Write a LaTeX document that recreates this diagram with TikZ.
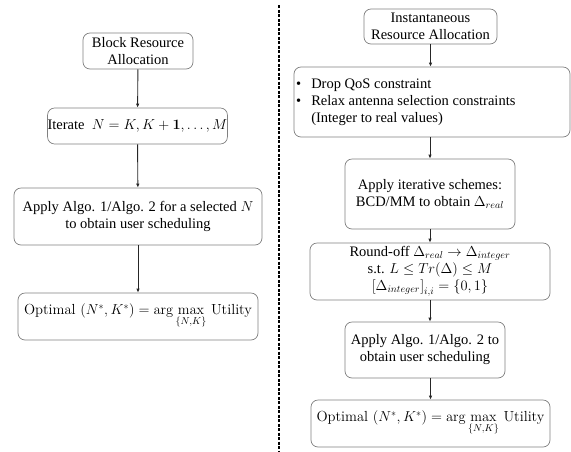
\documentclass[tikz,border=0pt]{standalone}
\usepackage{amsmath}
\usepackage[no-math]{fontspec}
\setmainfont{Liberation Serif}
\usetikzlibrary{arrows.meta}
\newcommand{\lmfont}{\usefont{TU}{lmr}{m}{n}}
\begin{document}
\begin{tikzpicture}[x=1pt,y=-1pt,
  box/.style={draw=black!50,line width=0.7pt,rounded corners=7pt,align=center,inner sep=0pt,
    font=\fontsize{14.5}{17}\selectfont},
  optbox/.style={box,font=\fontsize{14.6}{17}\selectfont\lmfont},
  conn/.style={draw=black!85,line width=0.9pt,-{Latex[length=4pt,width=3.5pt]}}]
\useasboundingbox (0,0) rectangle (571,451);
% left column
\node[box,minimum width=110pt,minimum height=36pt] (b1) at (138,51) {Block Resource\\Allocation};
\node[box,minimum width=169pt,minimum height=36pt] (b2) at (137.5,126) {Iterate\ \ $N = K, K + \mathbf{1}, \ldots, M$};
\node[box,minimum width=248pt,minimum height=57pt] (b3) at (138,216.5) {Apply Algo. 1/Algo. 2 for a selected $N$\\to obtain user scheduling};
\node[optbox,minimum width=240pt,minimum height=47pt] (b4) at (138,316.5) {Optimal\ $(N^{*},K^{*}) = \arg\max\limits_{\{N,K\}}$\ Utility};
\draw[conn] (b1) -- (b2);
\draw[conn] (b2) -- (b3);
\draw[conn] (b3) -- (b4);
% separator
\coordinate (s1) at (279,5);
\coordinate (s2) at (279,451);
\draw[line width=1.1pt,dash pattern=on 3pt off 1.5pt] (s1) -- (s2);
% right column
\node[box,minimum width=133pt,minimum height=35pt] (r1) at (430.5,26.5) {Instantaneous\\Resource Allocation};
\node[box,minimum width=276pt,minimum height=70pt] (r2) at (432,102) {};
\node[anchor=west,inner sep=0pt,font=\fontsize{14.5}{17}\selectfont] (r2t) at (296,102.5)
  {\begin{tabular}{@{}l@{\hspace{10pt}}l@{}}\textbullet & Drop QoS constraint\\ \textbullet & Relax antenna selection constraints\\ & (Integer to real values)\end{tabular}};
\node[box,minimum width=170pt,minimum height=70pt] (r3) at (430,194) {Apply iterative schemes:\\BCD/MM to obtain $\Delta_{real}$};
\node[box,minimum width=240pt,minimum height=57pt] (r4) at (430,271.5) {Round-off $\Delta_{real} \rightarrow \Delta_{integer}$\\[0pt]s.t. $L \le Tr(\Delta) \le M$\\[0pt]$\left[\Delta_{integer}\right]_{i,i} = \{0,1\}$};
\node[box,minimum width=160pt,minimum height=56pt] (r5) at (425,350) {Apply Algo. 1/Algo. 2 to\\obtain user scheduling};
\node[optbox,minimum width=239pt,minimum height=47pt] (r6) at (430.5,423.5) {Optimal\ $(N^{*},K^{*}) = \arg\max\limits_{\{N,K\}}$\ Utility};
\draw[conn] (r1) -- (r1 |- r2.north);
\draw[conn] (r3 |- r2.south) -- (r3);
\draw[conn] (r3) -- (r4);
\draw[conn] (r4) -- (r4 |- r5.north);
\draw[conn] (r6 |- r5.south) -- (r6);
\end{tikzpicture}
\end{document}
